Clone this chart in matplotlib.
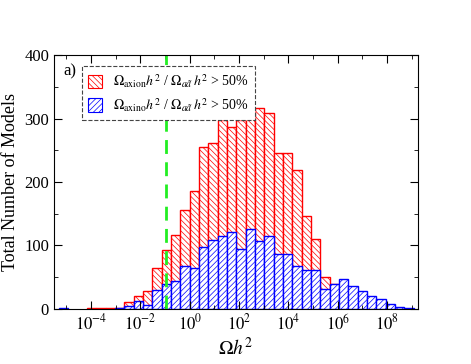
import numpy as np
import matplotlib
matplotlib.use("Agg")
import matplotlib.pyplot as plt
from matplotlib.patches import Patch
from matplotlib.ticker import FixedLocator, NullFormatter

plt.rcParams['font.family'] = ['Liberation Serif', 'DejaVu Serif']
plt.rcParams['mathtext.fontset'] = 'stix'
plt.rcParams['hatch.linewidth'] = 0.5

# histogram data: bins in log10(Omega h^2), width ~0.378 decades
bin_width = 0.378
bin_index = list(range(-14, 24))
axion_counts = [0, 0, 0, 1, 1, 1, 2, 11, 21, 28, 65, 93, 117, 156,
                186, 255, 262, 297, 286, 297, 300, 316, 309, 246, 245, 219,
                147, 111, 50, 40, 0, 0, 0, 0, 0, 0, 0, 0]
axino_counts = [1, 0, 0, 0, 0, 0, 1, 5, 13, 6, 30, 39, 44, 68,
                65, 98, 109, 115, 121, 95, 126, 107, 115, 86, 86, 68,
                62, 62, 32, 39, 47, 37, 28, 20, 16, 8, 3, 1]
wmap_omega = 0.11
xticks_major = [1e-4, 1e-2, 1e0, 1e2, 1e4, 1e6, 1e8]

RED_HATCH = '\\' * 6
BLUE_HATCH = '/' * 6

def draw_hist(ax, counts, color, hatch):
    lo = 10.0 ** (np.array(bin_index) * bin_width)
    hi = 10.0 ** ((np.array(bin_index) + 1) * bin_width)
    c = np.array(counts)
    keep = c > 0
    ax.bar(lo[keep], c[keep], width=(hi - lo)[keep], align='edge',
           facecolor='white', edgecolor=color, hatch=hatch, linewidth=1.0)

fig = plt.figure(figsize=(4.71, 3.64), dpi=100)
ax = fig.add_axes([0.1146, 0.1511, 0.7729, 0.6978])

draw_hist(ax, axion_counts, 'red', RED_HATCH)
draw_hist(ax, axino_counts, 'blue', BLUE_HATCH)

ax.axvline(wmap_omega, color='#22ee22', linestyle='--', linewidth=2, dashes=(5, 3))

ax.set_xscale('log')
ax.set_xlim(10 ** -5.5, 10 ** 9.25)
ax.set_ylim(0, 400)
ax.xaxis.set_major_locator(FixedLocator(xticks_major))
ax.xaxis.set_minor_locator(FixedLocator([10.0 ** k for k in range(-5, 10, 2)]))
ax.xaxis.set_minor_formatter(NullFormatter())
ax.set_xticklabels([r'$10^{%d}$' % int(np.log10(t)) for t in xticks_major])
ax.set_yticks([0, 100, 200, 300, 400])
ax.set_yticks([50, 150, 250, 350], minor=True)
ax.tick_params(which='both', direction='in', top=True, right=True, labelsize=12)
ax.tick_params(which='major', length=6)
ax.tick_params(which='minor', length=3)

ax.set_xlabel(r'$\Omega h^2$', fontsize=14, labelpad=2)
ax.set_ylabel('Total Number of Models', fontsize=13, labelpad=4)

handles = [Patch(facecolor='white', edgecolor='red', hatch=RED_HATCH, linewidth=0.8),
           Patch(facecolor='white', edgecolor='blue', hatch=BLUE_HATCH, linewidth=0.8)]
labels = [r'$\Omega_{\rm axion}h^2$ / $\Omega_{a\tilde{a}}\,h^2$ > 50%',
          r'$\Omega_{\rm axino}h^2$ / $\Omega_{a\tilde{a}}\,h^2$ > 50%']
leg = ax.legend(handles, labels, loc='upper left', bbox_to_anchor=(0.077, 0.957),
                borderaxespad=0, fontsize=10, fancybox=False, framealpha=1,
                edgecolor='#444444', handlelength=1.0, handleheight=1.1,
                handletextpad=0.8, borderpad=0.45, labelspacing=0.45)
leg.get_frame().set_linestyle('--')
leg.get_frame().set_linewidth(0.8)

ax.text(0.027, 0.937, 'a)', transform=ax.transAxes, fontsize=12, va='center')

fig.savefig('out.png', dpi=100)
